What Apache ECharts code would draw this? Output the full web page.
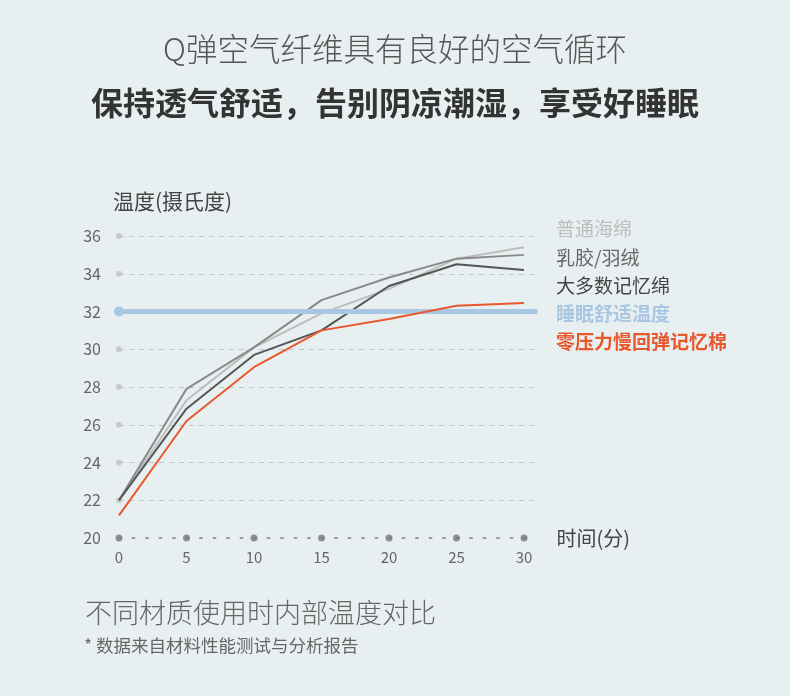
<!DOCTYPE html>
<html>
<head>
<meta charset="utf-8">
<script src="https://cdn.jsdelivr.net/npm/echarts@6/dist/echarts.min.js"></script>
<style>
html,body{margin:0;padding:0;background:#e8eff1;}
#c{width:790px;height:696px;}
</style>
</head>
<body>
<div id="c"></div>
<script>
// ---- data ----
const minutes = [0, 5, 10, 15, 20, 25, 30];
const yTicks = [22, 24, 26, 28, 30, 32, 34, 36];
const seriesNames = ['普通海绵', '乳胶/羽绒', '大多数记忆绵', '睡眠舒适温度', '零压力慢回弹记忆棉'];
const spongeTemps = [22.0, 27.3, 30.1, 31.9, 33.2, 34.8, 35.4];
const latexTemps = [22.0, 27.9, 30.1, 32.6, 33.8, 34.8, 35.0];
const memoryTemps = [22.0, 26.85, 29.7, 31.0, 33.35, 34.5, 34.2];
const zeroPressureTemps = [21.2, 26.2, 29.05, 31.0, 31.6, 32.3, 32.45];
const comfortTemp = 32;

const FONT = '"Noto Sans CJK SC", "Noto Sans", sans-serif';
const colors = {
  sponge: '#bdbdbd',
  latex: '#8a8a8a',
  memory: '#555555',
  comfort: '#a9c7e3',
  zero: '#e8582c'
};
const pairs = arr => minutes.map((m, i) => [m, arr[i]]);

const chart = echarts.init(document.getElementById('c'), null, {renderer: 'canvas'});
chart.setOption({
  backgroundColor: '#e8eff1',
  animation: false,
  textStyle: {fontFamily: FONT},
  title: [
    {text: 'Q弹空气纤维具有良好的空气循环', left: 'center', top: 28,
     textStyle: {fontFamily: FONT, fontSize: 31.5, fontWeight: 300, color: '#555'}},
    {text: '保持透气舒适，告别阴凉潮湿，享受好睡眠', left: 'center', top: 82,
     textStyle: {fontFamily: FONT, fontSize: 32, fontWeight: 'bold', color: '#333'}},
    {text: '不同材质使用时内部温度对比', left: 80, top: 594,
     textStyle: {fontFamily: FONT, fontSize: 27, fontWeight: 300, color: '#666'}},
    {text: '* 数据来自材料性能测试与分析报告', left: 79, top: 632,
     textStyle: {fontFamily: FONT, fontSize: 17.5, fontWeight: 'normal', color: '#666'}}
  ],
  legend: {
    orient: 'vertical',
    left: 546,
    top: 214,
    icon: 'none',
    itemWidth: 0,
    itemHeight: 14,
    itemGap: 8.3,
    selectedMode: false,
    textStyle: {fontFamily: FONT, fontSize: 19, lineHeight: 20},
    data: [
      {name: seriesNames[0], textStyle: {color: colors.sponge}},
      {name: seriesNames[1], textStyle: {color: '#666'}},
      {name: seriesNames[2], textStyle: {color: '#444'}},
      {name: seriesNames[3], textStyle: {color: colors.comfort, fontWeight: 'bold'}},
      {name: seriesNames[4], textStyle: {color: colors.zero, fontWeight: 'bold'}}
    ]
  },
  grid: {left: 119, right: 252.5, top: 236, bottom: 158, containLabel: false},
  xAxis: {
    type: 'value', min: 0, max: 31, interval: 5,
    name: '时间(分)', nameLocation: 'end', nameGap: 19,
    nameTextStyle: {fontFamily: FONT, fontSize: 20, color: '#444', align: 'left', verticalAlign: 'middle'},
    axisLine: {show: true, lineStyle: {color: '#9a9a9a', width: 2, type: [2, 11.5]}},
    axisTick: {show: false},
    splitLine: {show: false},
    axisLabel: {color: '#666', fontSize: 15, margin: 12, showMaxLabel: false, fontFamily: FONT}
  },
  yAxis: {
    type: 'value', min: 20, max: 36, interval: 2,
    name: '温度(摄氏度)', nameLocation: 'end', nameGap: 35,
    nameTextStyle: {fontFamily: FONT, fontSize: 21, color: '#444', align: 'left', verticalAlign: 'middle', padding: [0, 0, 0, -6]},
    axisLine: {show: false},
    axisTick: {show: false},
    axisLabel: {color: '#666', fontSize: 16, margin: 18, fontFamily: FONT},
    splitLine: {show: true, showMinLine: false, lineStyle: {color: '#bfc4c5', width: 1, type: [5, 5]}}
  },
  series: [
    {
      name: seriesNames[3], type: 'line', data: [], z: 1, silent: true,
      itemStyle: {color: colors.comfort}, lineStyle: {color: colors.comfort, width: 5},
      markLine: {
        silent: true, symbol: ['circle', 'none'], symbolSize: 10,
        label: {show: false},
        lineStyle: {color: colors.comfort, width: 5, type: 'solid'},
        data: [{yAxis: comfortTemp}]
      }
    },
    {name: seriesNames[0], type: 'line', data: pairs(spongeTemps), showSymbol: false, symbol: 'none', z: 3,
     itemStyle: {color: colors.sponge}, lineStyle: {color: colors.sponge, width: 2}},
    {name: seriesNames[1], type: 'line', data: pairs(latexTemps), showSymbol: false, symbol: 'none', z: 3,
     itemStyle: {color: colors.latex}, lineStyle: {color: colors.latex, width: 2}},
    {name: seriesNames[2], type: 'line', data: pairs(memoryTemps), showSymbol: false, symbol: 'none', z: 4,
     itemStyle: {color: colors.memory}, lineStyle: {color: colors.memory, width: 2}},
    {name: seriesNames[4], type: 'line', data: pairs(zeroPressureTemps), showSymbol: false, symbol: 'none', z: 5,
     itemStyle: {color: colors.zero}, lineStyle: {color: colors.zero, width: 2}},
    // tick dots at the start of each gridline
    {name: 'yDots', type: 'scatter', data: yTicks.filter(v => v !== comfortTemp).map(v => [0, v]),
     symbolSize: 6, itemStyle: {color: '#c2c2c2'}, clip: false, silent: true, z: 2},
    // major tick dots on the time axis
    {name: 'xDots', type: 'scatter', data: minutes.map(m => [m, 20]),
     symbolSize: 7, itemStyle: {color: '#777'}, clip: false, silent: true, z: 6}
  ]
});
</script>
</body>
</html>
